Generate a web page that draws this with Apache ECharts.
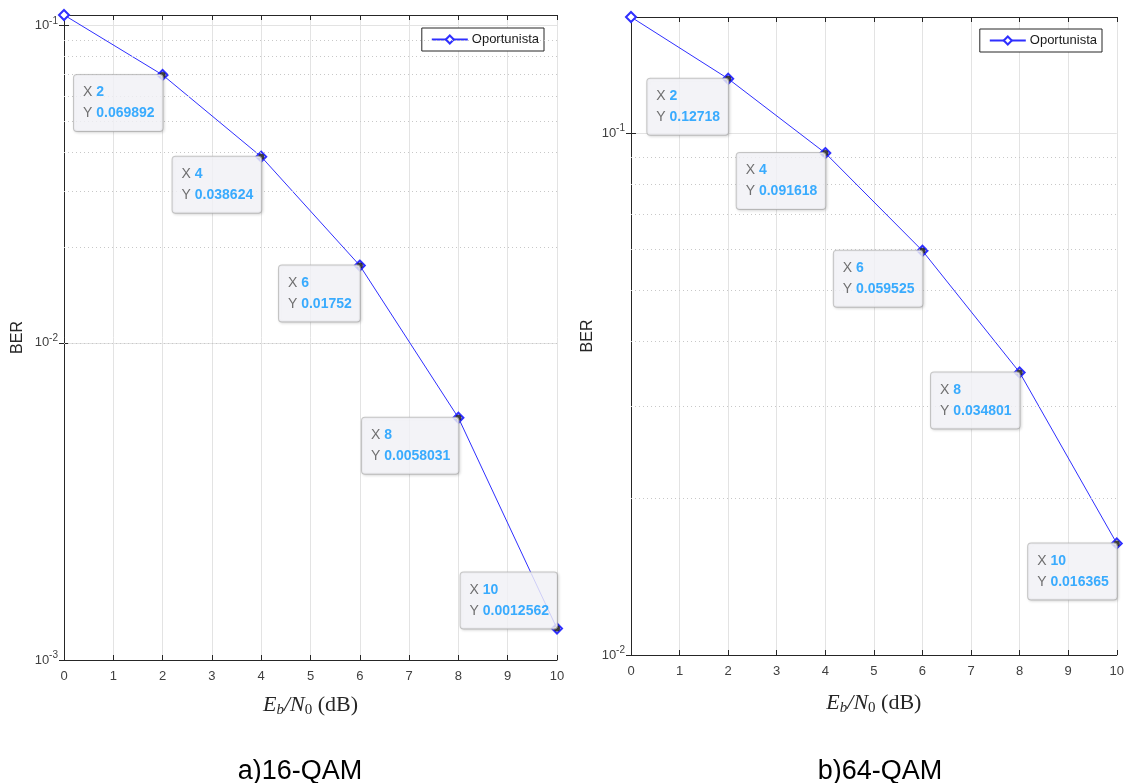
<!DOCTYPE html>
<html><head><meta charset="utf-8">
<script src="https://cdn.jsdelivr.net/npm/echarts@6/dist/echarts.min.js"></script>
<style>html,body{margin:0;padding:0;background:#fff}#c{width:1127px;height:783px}</style>
</head><body><div id="c"></div>
<script>
// ---- data ----
const ebn0 = [0, 2, 4, 6, 8, 10];
const ber16 = [0.108, 0.069892, 0.038624, 0.01752, 0.0058031, 0.0012562];
const ber64 = [0.167, 0.12718, 0.091618, 0.059525, 0.034801, 0.016365];
const yRange16 = [0.001, 0.108];
const yRange64 = [0.01, 0.167];
const xRange = [0, 10];
const seriesName = 'Oportunista';
const captions = ['a)16-QAM', 'b)64-QAM'];
const yName = 'BER';

// ---- helpers ----
function minorValues(r) {
  const out = [];
  const lo = Math.floor(Math.log10(r[0])), hi = Math.ceil(Math.log10(r[1]));
  for (let e = lo; e < hi; e++) for (let k = 2; k <= 9; k++) {
    const v = k * Math.pow(10, e);
    if (v > r[0] && v < r[1]) out.push(+v.toPrecision(3));
  }
  return out;
}
const axisColor = '#262626';
const fontSans = 'Liberation Sans, Arial, sans-serif';
const fontSerif = 'Liberation Serif, Times New Roman, serif';

function yLabelFmt(v) {
  const e = Math.log10(v);
  if (Math.abs(e - Math.round(e)) > 1e-6) return '';
  return '{b|10}{s|' + Math.round(e) + '}';
}
const yLabelRich = {
  b: { fontSize: 13, color: '#404040', fontFamily: fontSans },
  s: { fontSize: 10, color: '#404040', fontFamily: fontSans, padding: [0, 0, 9, 0] }
};
const xNameRich = {
  i: { fontFamily: fontSerif, fontStyle: 'italic', fontSize: 22, color: '#262626' },
  sb: { fontFamily: fontSerif, fontStyle: 'italic', fontSize: 15, color: '#262626', padding: [10, 0, 0, 0] },
  s0: { fontFamily: fontSerif, fontSize: 15, color: '#262626', padding: [10, 0, 0, 0] },
  r: { fontFamily: fontSerif, fontSize: 22, color: '#262626' }
};

function makeAxes(gi, yr, nameGapY, nameGapX) {
  const xs = [
    { type: 'value', gridIndex: gi, min: xRange[0], max: xRange[1], interval: 1, position: 'bottom',
      name: '{i|E}{sb|b}{i|/N}{s0|0}{r| (dB)}', nameLocation: 'middle', nameGap: nameGapX,
      nameTextStyle: { rich: xNameRich },
      axisLine: { show: true, lineStyle: { color: axisColor, width: 1 } },
      axisTick: { show: true, inside: true, length: 5, lineStyle: { color: axisColor } },
      axisLabel: { color: '#404040', fontSize: 13, fontFamily: fontSans, margin: 10 },
      splitLine: { show: true, lineStyle: { color: '#e3e3e3', width: 1 } } },
    { type: 'value', gridIndex: gi, min: xRange[0], max: xRange[1], interval: 1, position: 'top',
      axisLine: { show: true, lineStyle: { color: axisColor, width: 1 } },
      axisTick: { show: true, inside: true, length: 5, lineStyle: { color: axisColor } },
      axisLabel: { show: false }, splitLine: { show: false } }
  ];
  const ys = [
    { type: 'log', logBase: 10, gridIndex: gi, min: yr[0], max: yr[1], position: 'left',
      name: yName, nameLocation: 'middle', nameGap: nameGapY,
      nameTextStyle: { fontSize: 16, color: '#262626', fontFamily: fontSans },
      axisLine: { show: true, lineStyle: { color: axisColor, width: 1 } },
      axisTick: { show: true, inside: true, length: 5, lineStyle: { color: axisColor } },
      axisLabel: { formatter: yLabelFmt, rich: yLabelRich, margin: 6 },
      splitLine: { show: true, lineStyle: { color: '#e3e3e3', width: 1 } } },
    { type: 'log', logBase: 10, gridIndex: gi, min: yr[0], max: yr[1], position: 'right',
      axisLine: { show: true, lineStyle: { color: axisColor, width: 1 } },
      axisTick: { show: true, inside: true, length: 5, lineStyle: { color: axisColor } },
      axisLabel: { show: false }, splitLine: { show: false } }
  ];
  return { xs, ys };
}

const a0 = makeAxes(0, yRange16, 38, 33);
const a1 = makeAxes(1, yRange64, 35, 36);

function lineSeries(gi, ys, yr) {
  return {
    name: seriesName, type: 'line', xAxisIndex: gi * 2, yAxisIndex: gi * 2,
    data: ebn0.map((x, i) => [x, ys[i]]),
    symbol: 'emptyDiamond', symbolSize: 10, showAllSymbol: true,
    lineStyle: { color: '#2f2fff', width: 1 },
    itemStyle: { color: '#2f2fff', borderWidth: 1 },
    z: 3, animation: false,
    markLine: {
      silent: true, symbol: 'none', animation: false, label: { show: false },
      lineStyle: { color: '#c8c8c8', type: [1, 3], width: 1 },
      data: minorValues(yr).map(v => ({ yAxis: v }))
    }
  };
}
const tipLabel = {
  show: true, position: ['50%', '50%'], align: 'right', verticalAlign: 'top',
  offset: [-2, 3],
  formatter: p => '{k|X }{v|' + p.value[0] + '}\n{k|Y }{v|' + p.value[1] + '}',
  backgroundColor: '#f8f8fc', borderColor: '#bcbcbc', borderWidth: 1, borderRadius: 3,
  padding: [7, 8, 7, 9], lineHeight: 21,
  shadowColor: 'rgba(0,0,0,0.15)', shadowBlur: 3, shadowOffsetX: 1, shadowOffsetY: 1,
  rich: {
    k: { fontSize: 14, color: '#4d4d4d', fontFamily: fontSans, lineHeight: 21, align: 'left' },
    v: { fontSize: 14, color: '#0a99ff', fontWeight: 'bold', fontFamily: fontSans, lineHeight: 21, align: 'left' }
  }
};
function tipSeries(gi, ys, lastAbove) {
  const pts = [];
  ebn0.forEach((x, i) => {
    if (i === 0) return;
    const item = { value: [x, ys[i]] };
    if (lastAbove && i === ebn0.length - 1) item.label = { verticalAlign: 'bottom', offset: [-3, -3] };
    pts.push(item);
  });
  return {
    name: 'datatip', type: 'scatter', xAxisIndex: gi * 2, yAxisIndex: gi * 2,
    data: pts, symbol: 'circle', symbolSize: 6,
    itemStyle: { color: '#111111' }, label: tipLabel, z: 5, animation: false,
    labelLayout: { hideOverlap: false }
  };
}

const legendBase = {
  data: [seriesName], orient: 'vertical', itemWidth: 36, itemHeight: 10, itemGap: 0,
  backgroundColor: '#ffffff', borderColor: '#262626', borderWidth: 1, borderRadius: 0,
  padding: [5, 5, 5, 9], textStyle: { fontSize: 13, color: '#1a1a1a', fontFamily: fontSans, padding: [0, 0, 0, -1] },
  selectedMode: false
};

const option = {
  backgroundColor: '#ffffff',
  animation: false,
  title: [
    { text: captions[0], left: 295, top: 753, textAlign: 'center',
      textStyle: { fontSize: 27, fontWeight: 'normal', color: '#000', fontFamily: fontSans } },
    { text: captions[1], left: 875, top: 753, textAlign: 'center',
      textStyle: { fontSize: 27, fontWeight: 'normal', color: '#000', fontFamily: fontSans } }
  ],
  legend: [
    Object.assign({}, legendBase, { right: 583, top: 28 }),
    Object.assign({}, legendBase, { right: 25, top: 29 })
  ],
  grid: [
    { left: 64, right: 570, top: 15, bottom: 123, containLabel: false },
    { left: 631, right: 7, top: 17, bottom: 128, containLabel: false }
  ],
  xAxis: a0.xs.concat(a1.xs),
  yAxis: a0.ys.concat(a1.ys),
  series: [
    lineSeries(0, ber16, yRange16),
    tipSeries(0, ber16, true),
    lineSeries(1, ber64, yRange64),
    tipSeries(1, ber64, false)
  ]
};
const chart = echarts.init(document.getElementById('c'), null, { renderer: 'canvas' });
chart.setOption(option);
</script></body></html>
